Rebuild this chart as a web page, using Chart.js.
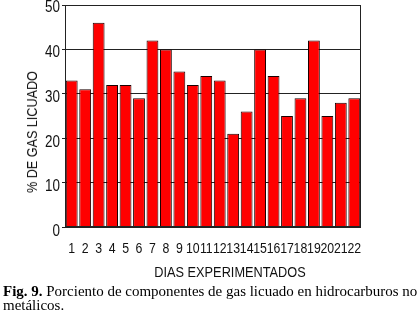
<!DOCTYPE html>
<html>
<head>
<meta charset="utf-8">
<script src="https://cdn.jsdelivr.net/npm/chart.js@4"></script>
<style>
  html, body { margin: 0; padding: 0; background: #fff; }
  #wrap { position: relative; width: 419px; height: 314px; overflow: hidden; }
  #c { position: absolute; left: 0; top: 0; }
  .ytitle { position: absolute; left: 32px; top: 132px; transform: translate(-50%, -50%) rotate(-90deg) scaleX(0.9);
    font-family: "Liberation Sans", Arial, sans-serif; font-size: 14px; font-weight: normal; color: #111; white-space: nowrap; line-height: 14px; }
  .xtitle { position: absolute; left: 230px; top: 271px; transform: translate(-50%, -50%) scaleX(0.85);
    font-family: "Liberation Sans", Arial, sans-serif; font-size: 15px; color: #111; white-space: nowrap; line-height: 15px; }
  .caption { position: absolute; left: 3px; top: 284.5px; font-family: "Liberation Serif", "Times New Roman", serif;
    font-size: 14px; line-height: 14.5px; color: #000; white-space: nowrap; transform-origin: 0 0; transform: scaleX(1.07); }
</style>
</head>
<body>
<div id="wrap">
  <canvas id="c" width="419" height="314" style="width:419px;height:314px"></canvas>
  <div class="ytitle">% DE GAS LICUADO</div>
  <div class="xtitle">DIAS EXPERIMENTADOS</div>
  <div class="caption"><b>Fig. 9.</b> Porciento de componentes de gas licuado en hidrocarburos no<br>metálicos.</div>
</div>
<script>
const dias = ["1","2","3","4","5","6","7","8","9","10","11","12","13","14","15","16","17","18","19","20","21","22"];
const porcentajeGas = [33,31,46,32,32,29,42,40,35,32,34,33,21,26,40,34,25,29,42,25,28,29];
const yTicks = [0,10,20,30,40,50];

const frame = {
  id: 'frame',
  afterDatasetsDraw(chart) {
    const a = chart.chartArea, ctx = chart.ctx;
    ctx.save();
    ctx.strokeStyle = '#222';
    ctx.lineWidth = 1;
    ctx.strokeRect(Math.round(a.left) + 0.5, Math.round(a.top) + 0.5, Math.round(a.right - a.left) - 1, Math.round(a.bottom - a.top) - 1);
    ctx.restore();
  },
  afterDraw(chart) {
    const ctx = chart.ctx, xs = chart.scales.x, ys = chart.scales.y;
    ctx.save();
    ctx.fillStyle = '#111';
    ctx.textBaseline = 'middle';
    ctx.font = '16px "Liberation Sans", Arial, sans-serif';
    ctx.textAlign = 'right';
    yTicks.forEach(v => {
      const y = ys.getPixelForValue(v);
      const off = 2.8 + 0.04 * (ys.max - v);
      ctx.save();
      ctx.translate(60, y + off);
      ctx.scale(0.84, 1);
      ctx.fillText(String(v), 0, 0);
      ctx.restore();
    });
    ctx.font = '15px "Liberation Sans", Arial, sans-serif';
    ctx.textAlign = 'center';
    dias.forEach((lab, i) => {
      const x = xs.getPixelForTick(i);
      ctx.save();
      ctx.translate(x, 249.3);
      ctx.scale(0.82, 1);
      ctx.fillText(lab, 0, 0);
      ctx.restore();
    });
    ctx.restore();
  }
};

new Chart(document.getElementById('c'), {
  type: 'bar',
  data: {
    labels: dias,
    datasets: [{
      data: porcentajeGas,
      backgroundColor: '#ff0000',
      borderColor: '#1a0000',
      borderWidth: 1,
      barPercentage: 0.88,
      categoryPercentage: 1.0
    }]
  },
  options: {
    responsive: false,
    animation: false,
    events: [],
    layout: { padding: { left: 0, right: 58, top: 5, bottom: 0 } },
    plugins: { legend: { display: false }, tooltip: { enabled: false } },
    scales: {
      x: {
        grid: { display: false, drawTicks: false },
        border: { display: false },
        ticks: { display: false },
        afterFit(s) { s.height = 314 - 227; s.paddingLeft = 0; s.paddingRight = 0; }
      },
      y: {
        min: 0, max: 50,
        afterBuildTicks(s) { s.ticks = yTicks.map(v => ({ value: v })); },
        grid: { color: '#222', lineWidth: 1, drawTicks: true, tickLength: 3 },
        border: { display: false },
        ticks: { display: false },
        afterFit(s) { s.width = 65; s.paddingTop = 0; s.paddingBottom = 0; }
      }
    }
  },
  plugins: [frame]
});
</script>
</body>
</html>
